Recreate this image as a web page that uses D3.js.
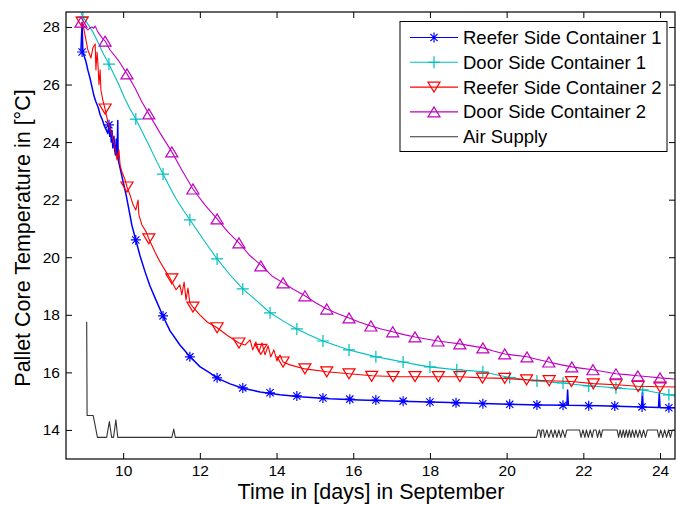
<!DOCTYPE html>
<html>
<head>
<meta charset="utf-8">
<script src="https://cdn.jsdelivr.net/npm/d3@7"></script>
<style>
  body { margin: 0; background: #fff; }
  text { font-family: "Liberation Sans", Arial, Helvetica, sans-serif; fill: #000; }
</style>
</head>
<body>
<div id="chart"></div>
<script>
// Variables
const width = 676;
const height = 505;

const margin = { top: 12, right: 1, bottom: 46, left: 66 };
const innerWidth = width - margin.left - margin.right;
const innerHeight = height - margin.top - margin.bottom;

const xAxisLabel = 'Time in [days] in September';
const yAxisLabel = 'Pallet Core Temperature in [°C]';

const xTicks = [10, 12, 14, 16, 18, 20, 22, 24];
const yTicks = [14, 16, 18, 20, 22, 24, 26, 28];

const seriesNames = ['Reefer Side Container 1', 'Door Side Container 1', 'Reefer Side Container 2', 'Door Side Container 2', 'Air Supply'];

// [day, temperature]
const reefer1Line = [[8.90,27.2],[8.93,28.15],[8.95,27.1],[8.98,27.0],[9.03,26.8],[9.08,26.5],[9.14,26.2],[9.19,25.9],[9.24,25.6],[9.29,25.4],[9.35,25.2],[9.40,24.95],[9.45,24.8],[9.50,24.6],[9.55,24.45],[9.60,24.3],[9.63,24.6],[9.65,24.2],[9.67,24.5],[9.69,24.0],[9.71,24.4],[9.73,23.8],[9.76,24.2],[9.78,23.7],[9.80,23.55],[9.82,24.1],[9.84,23.5],[9.86,24.75],[9.87,23.4],[9.92,23.1],[9.97,22.8],[10.02,22.5],[10.08,22.15],[10.13,21.8],[10.18,21.45],[10.23,21.1],[10.28,20.85],[10.33,20.6],[10.44,20.05],[10.57,19.5],[10.70,19.0],[10.86,18.5],[11.04,17.95],[11.22,17.45],[11.48,16.95],[11.74,16.55],[12.0,16.2],[12.26,15.98],[12.45,15.8],[12.79,15.6],[13.12,15.45],[13.57,15.32],[14.09,15.22],[14.61,15.15],[15.39,15.08],[16.17,15.04],[17.22,15.0],[18.0,14.97],[18.78,14.94],[19.82,14.9],[20.87,14.87],[21.57,14.86],[21.59,15.39],[21.61,14.86],[22.43,14.84],[23.52,14.8],[23.54,15.32],[23.56,14.8],[23.96,14.78],[23.98,15.29],[24.0,14.77],[24.39,14.77]];
const reefer1Marks = [[8.93,27.13],[9.63,24.6],[10.33,20.6],[11.04,17.96],[11.74,16.54],[12.45,15.81],[13.12,15.46],[13.83,15.29],[14.53,15.18],[15.21,15.11],[15.91,15.07],[16.59,15.04],[17.30,15.0],[18.0,14.97],[18.68,14.94],[19.38,14.91],[20.08,14.89],[20.79,14.87],[21.47,14.86],[22.14,14.84],[22.82,14.83],[23.53,14.8],[24.23,14.77]];

const door1Line = [[8.90,28.5],[8.95,28.35],[9.08,28.1],[9.21,27.83],[9.35,27.45],[9.49,27.05],[9.63,26.71],[9.76,26.35],[9.89,25.99],[10.03,25.55],[10.18,25.15],[10.33,24.8],[10.50,24.35],[10.67,23.9],[10.85,23.4],[11.04,22.89],[11.21,22.45],[11.38,22.03],[11.56,21.65],[11.74,21.3],[12.1,20.6],[12.45,19.94],[12.78,19.4],[13.12,18.9],[13.47,18.5],[13.83,18.07],[14.18,17.78],[14.53,17.51],[14.87,17.29],[15.21,17.09],[15.55,16.93],[15.89,16.78],[16.24,16.66],[16.59,16.54],[16.95,16.45],[17.30,16.36],[17.65,16.27],[18.0,16.19],[18.35,16.14],[18.70,16.09],[19.04,16.06],[19.38,16.02],[19.73,15.92],[20.08,15.82],[20.44,15.76],[20.79,15.70],[21.13,15.66],[21.47,15.63],[21.80,15.58],[22.14,15.53],[22.5,15.5],[22.85,15.46],[23.2,15.42],[23.55,15.39],[23.9,15.3],[24.23,15.22],[24.39,15.18]];
const door1Marks = [[8.95,28.35],[9.63,26.71],[10.33,24.8],[11.04,22.89],[11.74,21.3],[12.45,19.94],[13.12,18.9],[13.83,18.07],[14.53,17.51],[15.21,17.09],[15.89,16.78],[16.59,16.54],[17.30,16.36],[18.0,16.19],[18.70,16.09],[19.38,16.02],[20.08,15.82],[20.79,15.70],[21.47,15.63],[22.14,15.53],[22.85,15.46],[23.55,15.39],[24.23,15.22]];

const reefer2Line = [[8.93,28.17],[8.98,27.9],[9.03,27.55],[9.08,27.2],[9.16,26.92],[9.21,27.27],[9.27,27.41],[9.29,26.51],[9.32,27.13],[9.34,26.78],[9.37,25.99],[9.40,26.51],[9.42,25.81],[9.47,25.46],[9.53,25.15],[9.60,24.7],[9.71,24.25],[9.79,23.8],[9.84,23.38],[9.89,23.73],[9.92,23.21],[9.97,22.96],[10.05,22.69],[10.10,22.44],[10.18,22.16],[10.26,21.82],[10.33,21.64],[10.39,21.99],[10.41,21.47],[10.49,21.12],[10.60,20.88],[10.67,20.64],[10.83,20.18],[10.96,19.84],[11.12,19.49],[11.22,19.28],[11.38,18.87],[11.48,19.04],[11.53,18.69],[11.59,19.14],[11.64,18.52],[11.69,18.93],[11.74,18.41],[11.82,18.27],[12.0,18.0],[12.19,17.75],[12.45,17.55],[12.73,17.27],[13.02,17.02],[13.18,16.95],[13.31,17.13],[13.38,16.78],[13.46,17.06],[13.54,16.71],[13.62,17.02],[13.70,16.61],[13.78,16.92],[13.85,16.54],[13.93,16.78],[14.01,16.4],[14.09,16.6],[14.17,16.36],[14.35,16.26],[14.74,16.12],[15.31,16.02],[15.89,15.95],[16.49,15.88],[17.22,15.85],[18.0,15.85],[18.78,15.85],[19.38,15.81],[19.95,15.79],[20.53,15.74],[21.10,15.71],[21.70,15.68],[22.25,15.61],[22.85,15.57],[23.42,15.52],[24.0,15.5],[24.39,15.49]];
const reefer2Marks = [[8.93,28.17],[9.53,25.15],[10.10,22.44],[10.67,20.64],[11.27,19.25],[11.82,18.27],[12.45,17.55],[13.02,17.02],[13.59,16.8],[14.17,16.36],[14.74,16.12],[15.31,16.02],[15.89,15.95],[16.48,15.86],[17.04,15.85],[17.61,15.85],[18.22,15.85],[18.78,15.85],[19.37,15.8],[19.95,15.79],[20.52,15.74],[21.11,15.71],[21.69,15.68],[22.26,15.6],[22.85,15.57],[23.43,15.51],[24.0,15.49]];

const door2Line = [[8.90,28.17],[9.0,28.0],[9.08,27.9],[9.14,27.97],[9.19,28.0],[9.23,27.95],[9.27,28.03],[9.34,27.83],[9.45,27.62],[9.53,27.51],[9.66,27.2],[9.87,26.85],[10.10,26.37],[10.31,25.88],[10.49,25.39],[10.67,24.98],[10.96,24.32],[11.27,23.66],[11.53,23.03],[11.82,22.37],[12.13,21.82],[12.45,21.33],[12.73,20.88],[13.02,20.5],[13.31,20.05],[13.62,19.7],[13.88,19.35],[14.17,19.11],[14.45,18.88],[14.74,18.66],[15.02,18.42],[15.31,18.2],[15.6,18.04],[15.89,17.89],[16.17,17.74],[16.46,17.61],[16.75,17.5],[17.03,17.41],[17.32,17.31],[17.61,17.23],[17.9,17.16],[18.21,17.09],[18.5,17.04],[18.78,16.99],[19.08,16.92],[19.38,16.85],[19.66,16.74],[19.95,16.64],[20.24,16.59],[20.53,16.54],[20.81,16.45],[21.10,16.36],[21.4,16.27],[21.70,16.19],[21.97,16.14],[22.25,16.09],[22.55,16.02],[22.85,15.95],[23.13,15.92],[23.42,15.88],[23.7,15.85],[24.0,15.81],[24.39,15.77]];
const door2Marks = [[8.90,28.17],[9.53,27.51],[10.10,26.37],[10.67,24.98],[11.27,23.66],[11.82,22.37],[12.45,21.33],[13.02,20.50],[13.59,19.70],[14.17,19.11],[14.74,18.66],[15.31,18.20],[15.89,17.89],[16.46,17.61],[17.03,17.41],[17.61,17.23],[18.21,17.09],[18.78,16.99],[19.38,16.85],[19.95,16.64],[20.53,16.54],[21.10,16.36],[21.70,16.19],[22.25,16.09],[22.85,15.95],[23.42,15.88],[24.0,15.81]];

const airLine = [[9.05,17.76],[9.06,14.5],[9.22,14.5],[9.33,13.74],[9.57,13.74],[9.64,14.29],[9.70,13.74],[9.75,13.74],[9.81,14.35],[9.86,13.74],[11.27,13.74],[11.32,14.03],[11.36,13.74],[20.78,13.74],
  [20.82,14.0],[20.86,14.0],[20.89,13.74],[20.92,14.0],[20.96,14.0],[20.99,13.74],[21.05,14.0],[21.10,13.74],[21.16,14.0],[21.21,13.74],[21.26,14.0],[21.31,13.74],[21.36,14.0],[21.41,13.74],[21.46,14.0],[21.52,13.74],[21.57,14.0],
  [21.90,14.0],[21.94,13.74],[21.99,14.0],[22.04,13.74],[22.08,14.0],[22.13,13.74],[22.18,14.0],[22.23,13.74],[22.27,14.0],[22.33,14.0],[22.37,13.74],[22.42,14.0],[22.46,13.74],[22.50,14.0],
  [22.88,14.0],[22.92,13.74],[22.96,14.0],[23.0,13.74],[23.04,14.0],[23.08,13.74],[23.12,14.0],[23.16,13.74],[23.20,14.0],[23.24,13.74],[23.28,14.0],[23.33,13.74],[23.37,14.0],[23.42,13.74],[23.47,14.0],[23.52,13.74],[23.57,14.0],[23.62,13.74],[23.67,14.0],
  [23.93,14.0],[23.97,13.74],[24.02,14.0],[24.07,13.74],[24.12,14.0],[24.17,13.74],[24.22,14.0],[24.27,13.74],[24.32,14.0],[24.39,14.0]];

const colors = ['#0000ff', '#00bfbf', '#ff0000', '#bf00bf', '#333333'];
const markerTypes = ['asterisk', 'plus', 'triDown', 'triUp', null];
const lines = [reefer1Line, door1Line, reefer2Line, door2Line, airLine];
const marks = [reefer1Marks, door1Marks, reefer2Marks, door2Marks, []];

// marker shapes, MATLAB-ish
const markerPath = type => {
    if (type === 'asterisk') return 'M-5,0L5,0M0,-5L0,5M-3.6,-3.6L3.6,3.6M-3.6,3.6L3.6,-3.6';
    if (type === 'plus') return 'M-6,0L6,0M0,-6L0,6';
    if (type === 'triDown') return 'M-6,-5L6,-5L0,5Z';
    if (type === 'triUp') return 'M-6,5L6,5L0,-5Z';
    return '';
};

const render = () => {
    const svg = d3.select('#chart')
        .append('svg')
            .attr('width', width)
            .attr('height', height);

    const chartGroup = svg.append('g')
        .attr('transform', `translate(${margin.left}, ${margin.top})`);

    const xScale = d3.scaleLinear()
        .domain([8.51, 24.39])
        .range([0, innerWidth]);

    const yScale = d3.scaleLinear()
        .domain([12.99, 28.52])
        .range([innerHeight, 0]);

    svg.append('defs').append('clipPath')
        .attr('id', 'plotClip')
        .append('rect')
            .attr('width', innerWidth)
            .attr('height', innerHeight);

    // axes, ticks pointing inward on all four sides
    const styleAxis = g => {
        g.select('.domain').remove();
        g.selectAll('line').attr('stroke', '#000');
        g.selectAll('text').attr('font-size', '15.5px').attr('fill', '#000')
            .attr('font-family', '"Liberation Sans", Arial, sans-serif');
    };

    chartGroup.append('g')
        .attr('transform', `translate(0, ${innerHeight})`)
        .call(d3.axisBottom(xScale).tickValues(xTicks).tickSize(-6).tickPadding(6).tickFormat(d3.format('d')))
        .call(styleAxis);

    chartGroup.append('g')
        .call(d3.axisTop(xScale).tickValues(xTicks).tickSize(-6).tickFormat(''))
        .call(styleAxis);

    chartGroup.append('g')
        .call(d3.axisLeft(yScale).tickValues(yTicks).tickSize(-6).tickPadding(6).tickFormat(d3.format('d')))
        .call(styleAxis);

    chartGroup.append('g')
        .attr('transform', `translate(${innerWidth}, 0)`)
        .call(d3.axisRight(yScale).tickValues(yTicks).tickSize(-6).tickFormat(''))
        .call(styleAxis);

    // series
    const lineGen = d3.line()
        .x(d => xScale(d[0]))
        .y(d => yScale(d[1]));

    const plot = chartGroup.append('g').attr('clip-path', 'url(#plotClip)');

    lines.forEach((data, i) => {
        plot.append('path')
            .datum(data)
            .attr('fill', 'none')
            .attr('stroke', colors[i])
            .attr('stroke-width', i === 0 ? 1.5 : 1.1)
            .attr('stroke-linejoin', 'round')
            .attr('d', lineGen);

        plot.selectAll(`.mark${i}`)
            .data(marks[i])
            .enter().append('path')
                .attr('class', `mark${i}`)
                .attr('transform', d => `translate(${xScale(d[0])}, ${yScale(d[1])})`)
                .attr('d', markerPath(markerTypes[i]))
                .attr('fill', 'none')
                .attr('stroke', colors[i])
                .attr('stroke-width', 1.2);
    });

    // frame
    chartGroup.append('rect')
        .attr('width', innerWidth)
        .attr('height', innerHeight)
        .attr('fill', 'none')
        .attr('stroke', '#000')
        .attr('stroke-width', 1.2);

    // axis labels
    svg.append('text')
        .text(xAxisLabel)
        .attr('x', 371)
        .attr('y', 499)
        .attr('text-anchor', 'middle')
        .attr('font-size', '21.5px');

    svg.append('text')
        .text(yAxisLabel)
        .attr('transform', 'translate(30, 238) rotate(-90)')
        .attr('text-anchor', 'middle')
        .attr('font-size', '21.5px');

    // legend
    const legend = svg.append('g').attr('transform', 'translate(400, 21.5)');
    legend.append('rect')
        .attr('width', 267)
        .attr('height', 130)
        .attr('fill', '#fff')
        .attr('stroke', '#000')
        .attr('stroke-width', 1);

    const rows = legend.selectAll('.row')
        .data(seriesNames)
        .enter().append('g')
            .attr('class', 'row')
            .attr('transform', (d, i) => `translate(0, ${16 + i * 24.8})`);

    rows.append('line')
        .attr('x1', 10).attr('x2', 58)
        .attr('stroke', (d, i) => colors[i])
        .attr('stroke-width', 1.1);

    rows.append('path')
        .attr('transform', 'translate(34, 0)')
        .attr('d', (d, i) => markerPath(markerTypes[i]))
        .attr('fill', 'none')
        .attr('stroke', (d, i) => colors[i])
        .attr('stroke-width', 1.2);

    rows.append('text')
        .text(d => d)
        .attr('x', 63)
        .attr('dy', '0.35em')
        .attr('font-size', '18.5px');
};

render();
</script>
</body>
</html>
